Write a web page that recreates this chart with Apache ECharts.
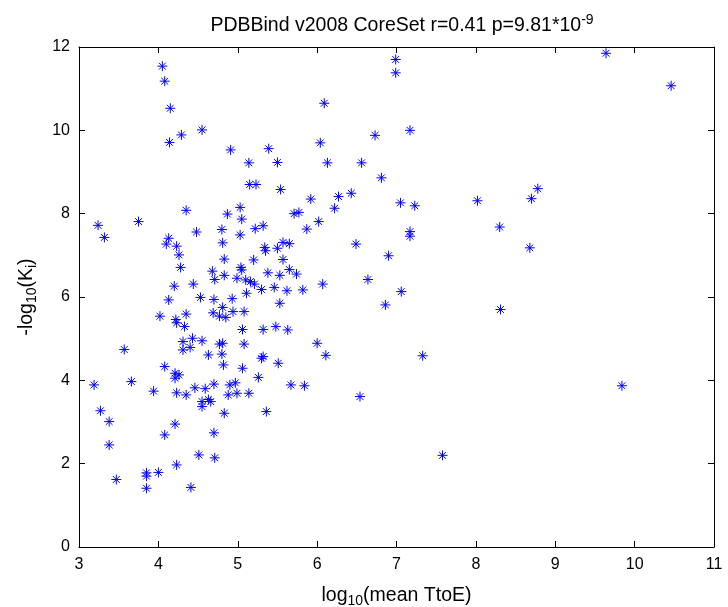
<!DOCTYPE html>
<html>
<head>
<meta charset="utf-8">
<script src="https://cdn.jsdelivr.net/npm/echarts@6/dist/echarts.min.js"></script>
<style>html,body{margin:0;padding:0;background:#fff}#c{width:728px;height:607px}</style>
</head>
<body>
<div id="c"></div>
<script>
// log10(mean TtoE)
var xVals = [4.05,4.08,4.15,4.29,4.55,4.14,4.91,5.14,5.39,5.50,5.15,5.23,5.54,4.35,5.03,4.87,5.05,5.71,5.77,3.24,
3.75,4.48,4.80,5.22,5.32,6.99,6.99,6.09,7.17,6.73,6.04,6.13,6.56,6.81,5.92,6.27,6.43,6.22,6.02,5.87,
7.05,7.23,8.02,8.30,9.64,10.46,8.78,8.70,8.68,8.31,9.84,7.17,7.17,5.57,5.65,6.49,6.90,5.57,5.65,5.74,
5.53,6.64,6.07,5.62,5.82,7.06,6.86,5.53,5.63,6.00,6.11,7.33,5.51,5.67,5.84,6.54,7.58,3.32,4.13,4.10,
4.23,4.81,5.03,5.34,5.35,5.50,4.26,4.83,5.20,4.28,4.68,4.83,4.71,5.04,5.05,4.99,5.10,5.16,5.21,5.38,
5.11,5.30,5.46,4.20,4.44,4.53,4.13,4.70,4.93,4.81,4.69,4.77,4.85,4.94,5.08,4.02,4.22,4.23,4.35,4.33,
5.06,5.32,5.48,3.57,4.31,4.43,4.55,4.31,4.40,4.77,4.81,5.08,4.63,4.80,4.82,5.30,5.32,5.06,4.08,4.21,
4.26,4.21,5.26,3.19,3.66,3.94,4.46,4.59,4.70,4.90,4.97,4.23,4.35,4.88,4.99,5.14,4.55,4.63,4.66,4.55,
4.83,5.36,3.27,3.38,3.38,4.21,4.08,4.70,4.51,4.71,4.23,3.47,3.85,4.00,3.85,3.85,4.41];
// -log10(Ki)
var yVals = [11.54,11.18,10.53,9.89,10.01,9.71,9.53,9.22,9.56,9.23,8.70,8.70,8.58,8.08,8.15,7.99,7.87,8.00,8.03,7.72,
7.81,7.56,7.62,7.64,7.71,11.70,11.38,10.65,10.00,9.88,9.70,9.22,9.22,8.86,8.35,8.41,8.49,8.13,7.81,7.63,
8.26,8.19,8.31,7.68,11.85,11.07,8.60,8.36,7.18,5.70,3.87,7.57,7.46,7.31,7.28,7.27,6.99,6.90,6.66,6.55,
6.52,6.42,6.31,6.15,6.17,6.13,5.81,5.85,5.21,4.89,4.60,4.59,4.41,3.89,3.87,3.61,2.20,7.43,7.41,7.27,
7.22,7.30,7.49,7.19,7.11,7.17,7.01,6.91,6.89,6.71,6.62,6.52,6.42,6.71,6.65,6.45,6.41,6.37,6.31,6.58,
6.09,6.18,6.23,6.26,6.31,5.99,5.93,5.94,5.96,5.75,5.62,5.54,5.51,5.65,5.65,5.54,5.46,5.38,5.59,5.29,
5.22,5.22,5.29,4.74,4.93,5.01,4.95,4.73,4.79,4.87,4.89,4.87,4.61,4.63,4.37,4.53,4.57,4.29,4.33,4.17,
4.13,4.05,4.07,3.89,3.97,3.74,3.82,3.80,3.91,3.89,3.94,3.70,3.65,3.65,3.69,3.69,3.49,3.54,3.49,3.37,
3.21,3.25,3.27,3.01,2.45,2.95,2.69,2.74,2.21,2.14,1.97,1.62,1.78,1.79,1.70,1.41,1.43];

var xTicks = [3,4,5,6,7,8,9,10,11];
var yTicks = [0,2,4,6,8,10,12];

var pts = xVals.map(function(v, i){ return [v, yVals[i]]; });

var font = 'Liberation Sans, Arial, Helvetica, sans-serif';
var chart = echarts.init(document.getElementById('c'), null, {renderer:'canvas'});

function axisCommon(){
  return {
    axisLine:{show:true, onZero:false, lineStyle:{color:'#000', width:1}},
    axisTick:{show:true, inside:true, length:6, lineStyle:{color:'#000', width:1}},
    splitLine:{show:false}
  };
}
var nameRich = {
  n:{fontSize:19.5, fontFamily:font, color:'#000'},
  s:{fontSize:14, fontFamily:font, color:'#000', padding:[11,0,0,0]}
};

var xMain = Object.assign(axisCommon(), {
  type:'value', position:'bottom', min:xTicks[0], max:xTicks[xTicks.length-1], interval:1,
  axisLabel:{color:'#000', fontSize:16, fontFamily:font, margin:10},
  name:'{n|log}{s|10}{n|(mean TtoE)}', nameLocation:'middle', nameGap:36,
  nameTextStyle:{color:'#000', fontFamily:font, rich:nameRich}
});
var xTop = Object.assign(axisCommon(), {
  type:'value', position:'top', min:xTicks[0], max:xTicks[xTicks.length-1], interval:1,
  axisLabel:{show:false}
});
var yMain = Object.assign(axisCommon(), {
  type:'value', position:'left', min:yTicks[0], max:yTicks[yTicks.length-1], interval:2,
  axisLabel:{color:'#000', fontSize:16, fontFamily:font, margin:9},
  name:'{n|-log}{s|10}{n|(K}{s|i}{n|)}', nameLocation:'middle', nameGap:40, nameRotate:90,
  nameTextStyle:{color:'#000', fontFamily:font, rich:nameRich}
});
var yRight = Object.assign(axisCommon(), {
  type:'value', position:'right', min:yTicks[0], max:yTicks[yTicks.length-1], interval:2,
  axisLabel:{show:false}
});

chart.setOption({
  animation:false,
  backgroundColor:'#fff',
  title:{
    text:'{n|PDBBind v2008 CoreSet r=0.41 p=9.81*10}{p|-9}',
    left:397, textAlign:'center', top:8,
    textStyle:{fontWeight:'normal', rich:{
      n:{fontSize:19.5, fontFamily:font, color:'#000', fontWeight:'normal'},
      p:{fontSize:14, fontFamily:font, color:'#000', fontWeight:'normal', padding:[0,0,11,0]}
    }}
  },
  grid:{left:79, right:14, top:47, bottom:60, containLabel:false, outerBoundsMode:'none'},
  xAxis:[xMain, xTop],
  yAxis:[yMain, yRight],
  series:[{
    type:'scatter',
    xAxisIndex:0, yAxisIndex:0,
    data:pts,
    symbol:'path://M5 0L5 10M0 5L10 5M1.6 1.6L8.4 8.4M1.6 8.4L8.4 1.6',
    symbolSize:10,
    itemStyle:{color:'rgba(0,0,255,0)', borderColor:'#0000ff', borderWidth:1, opacity:1},
    emphasis:{disabled:true}
  }]
});
</script>
</body>
</html>
